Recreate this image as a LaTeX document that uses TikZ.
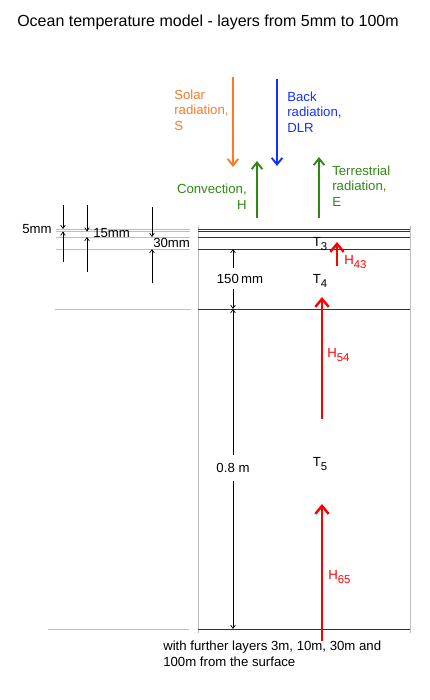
\documentclass[tikz,border=0pt]{standalone}
\usepackage{fontspec}
\setmainfont{Liberation Sans}
\usetikzlibrary{arrows.meta}

\definecolor{solarorange}{RGB}{255,120,40}
\definecolor{backblue}{RGB}{20,50,255}
\definecolor{convgreen}{RGB}{50,135,20}
\definecolor{layerblue}{RGB}{10,40,220}
\definecolor{edgegray}{RGB}{190,190,190}

\newcommand\lowsub[1]{\raisebox{-0.45ex}{\fontsize{8.5}{9}\selectfont #1}}

\begin{document}
\begin{tikzpicture}[x=0.75pt,y=-0.75pt,
    font=\fontsize{9.9}{11.6}\selectfont,
    layer/.style={layerblue,line width=0.6pt},
    guide/.style={edgegray,line width=0.6pt},
    dim/.style={black,line width=0.5pt,-{Straight Barb[length=2.5pt,width=3.5pt]}},
    flux/.style={line width=1.4pt,-{Straight Barb[length=5pt,width=8pt]}},
    heat/.style={red,line width=1.8pt,-{Straight Barb[length=6pt,width=10pt]}},
    lbl/.style={inner sep=0pt,align=left}]
    \useasboundingbox (0,0) rectangle (429,700);

    % Title
    \node[inner sep=0pt,font=\fontsize{12}{14}\selectfont] (title) at (208,22)
        {Ocean temperature model - layers from 5mm to 100m};

    % Box sides
    \draw[guide] (198,226) -- (198,633);
    \draw[guide] (410,226) -- (410,633);

    % Layer boundaries
    \foreach \y in {229,231,237,249,309,629}
        \draw[layer] (198,\y) -- (410,\y);
    \foreach \y in {229,231.5,237,249}
        \draw[guide] (56,\y) -- (190,\y);
    \draw[guide] (55,309) -- (191,309);
    \draw[guide] (48,629) -- (189,629);

    % Thin layer dimensions
    \draw[dim] (63,205) -- (63,229);
    \draw[dim] (63,262) -- (63,231.5);
    \node[lbl,anchor=east] (d5) at (52,229) {5mm};
    \draw[dim] (87,205) -- (87,231.5);
    \draw[dim] (87,272) -- (87,237);
    \node[lbl,anchor=west] (d15) at (93,233.5) {15mm};
    \draw[dim] (152,207) -- (152,237);
    \draw[dim] (152,283) -- (152,249);
    \node[lbl,anchor=west] (d30) at (153,243) {30mm};

    % Thick layer dimensions
    \node[lbl] (d150) at (240,279) {150\,mm};
    \draw[dim] (233,268) -- (233,249);
    \draw[dim] (233,289) -- (233,309);
    \node[lbl] (d08) at (233,468) {0.8 m};
    \draw[dim] (233,455) -- (233,309);
    \draw[dim] (233,481) -- (233,629);

    % Layer temperatures
    \node[lbl] (t3) at (320,244) {T\lowsub{3}};
    \node[lbl] (t4) at (320,281) {T\lowsub{4}};
    \node[lbl] (t5) at (320,464) {T\lowsub{5}};

    % Heat fluxes between layers
    \draw[heat] (337,266) -- (337,242);
    \node[lbl,anchor=west,red] (h43) at (344,262) {H\lowsub{43}};
    \draw[heat] (322,419) -- (322,297);
    \node[lbl,anchor=west,red] (h54) at (327,355) {H\lowsub{54}};
    \draw[heat] (322,641) -- (322,504);
    \node[lbl,anchor=west,red] (h65) at (328,577) {H\lowsub{65}};

    % Surface fluxes
    \draw[flux,solarorange] (233,77) -- (233,167);
    \node[lbl,anchor=west,solarorange] (solar) at (174,110) {Solar\\radiation,\\S};
    \draw[flux,backblue] (277,79) -- (277,166);
    \node[lbl,anchor=west,backblue] (back) at (287,112) {Back\\radiation,\\DLR};
    \draw[flux,convgreen] (257,218) -- (257,161);
    \node[lbl,anchor=east,align=right,convgreen] (conv) at (247,196.5) {Convection,\\H};
    \draw[flux,convgreen] (319,218) -- (319,157);
    \node[lbl,anchor=west,convgreen] (terr) at (332,186) {Terrestrial\\radiation,\\E};

    % Deeper layers note
    \node[lbl,anchor=north west] (note) at (163,641)
        {with further layers 3m, 10m, 30m and\\100m from the surface};
\end{tikzpicture}
\end{document}
